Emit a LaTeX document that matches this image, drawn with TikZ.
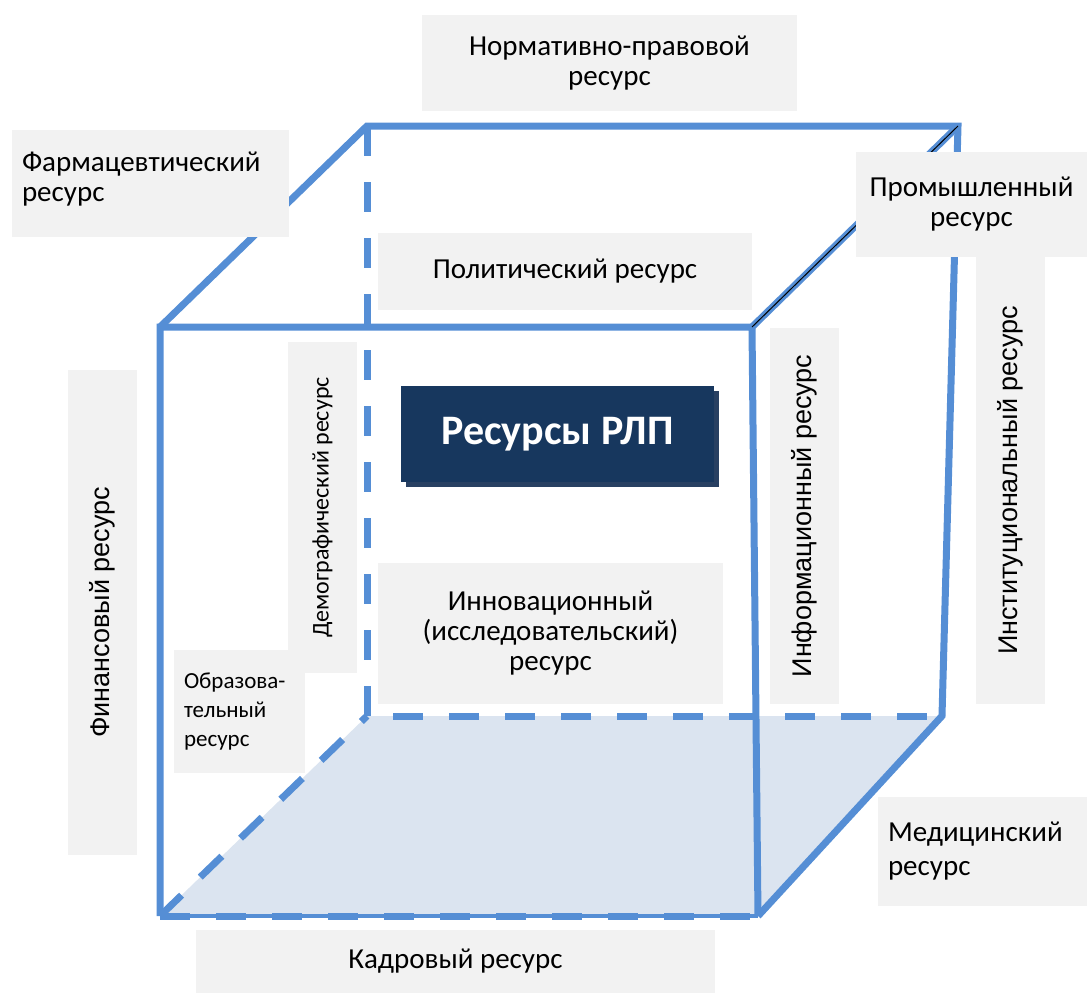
\documentclass[tikz,border=0pt]{standalone}
\usepackage{fontspec}
\setmainfont{Carlito}
\newfontfamily\arialfont{Liberation Sans}
\usetikzlibrary{shadows}
\definecolor{edgeblue}{RGB}{85,142,213}
\definecolor{floorblue}{RGB}{219,228,240}
\definecolor{boxgray}{RGB}{242,242,242}
\definecolor{titlenavy}{RGB}{23,55,94}
\definecolor{shadownavy}{RGB}{40,64,98}

\begin{document}
\begin{tikzpicture}[x=1pt,y=-1pt,
  edge/.style={edgeblue,line width=7pt},
  hidden/.style={edge,dash pattern=on 30pt off 26pt},
  res/.style={fill=boxgray,inner sep=0pt,align=center,font=\fontsize{29}{30}\selectfont},
  lres/.style={res,align=left,inner xsep=10pt},
  vres/.style={res,rotate=90,font=\arialfont\fontsize{27}{30}\selectfont},
  rlp/.style={fill=titlenavy,text=white,inner sep=0pt,font=\bfseries\fontsize{42}{44}\selectfont,
    drop shadow={shadow xshift=5pt,shadow yshift=-5pt,fill=shadownavy,opacity=1}}]

\useasboundingbox (0,0) rectangle (1088,994);

% cube corners
\coordinate (fbl) at (160,916);
\coordinate (fbr) at (758,916);
\coordinate (ftr) at (752,327);
\coordinate (ftl) at (160,327);
\coordinate (bbl) at (367,716);
\coordinate (bbr) at (942,716);
\coordinate (btr) at (958,126);
\coordinate (btl) at (367,126);

\fill[floorblue] (fbl) -- (bbl) -- (bbr) -- (fbr) -- cycle;

\draw[hidden] (btl) -- (bbl) -- (bbr);
\draw[hidden] (fbl) -- (bbl);
\draw[edgeblue,line width=4pt] (fbl) -- (fbr);
\draw[hidden] (fbl) -- (fbr);
\draw[edge] (fbr) -- (ftr) -- (ftl) -- (fbl);
\draw[edge] (ftl) -- (btl) -- (btr) -- (bbr) -- (fbr);
\draw[edge] (ftr) -- (btr);
\draw[black,line width=1pt] (ftr) -- (btr);

% resources
\node[res,minimum width=375,minimum height=96] (normativ) at (609.5,63) {Нормативно-правовой\\ресурс};
\node[lres,text width=257,minimum height=107,text depth=44pt] (farma) at (150.5,183.5) {Фармацевтический\\ресурс};
\node[res,minimum width=374,minimum height=77] (polit) at (565,271.5) {Политический ресурс};
\node[res,minimum width=231,minimum height=105] (prom) at (971.5,204.5) {Промышленный\\ресурс};
\node[vres,minimum width=447,minimum height=69] (instit) at (1010.5,480.5) {Институциональный ресурс};
\node[vres,minimum width=331,minimum height=69,font=\fontsize{24}{28}\selectfont] (demo) at (322.5,507.5) {Демографический ресурс};
\node[vres,minimum width=376,minimum height=69] (inform) at (804.5,516) {Информационный ресурс};
\node[vres,minimum width=485,minimum height=69] (finans) at (102.5,612.5) {Финансовый ресурс};
\node[lres,text width=111,minimum height=123,font=\fontsize{23}{29}\selectfont] (obraz) at (239.5,711.5) {Образова-\\тельный\\ресурс};
\node[res,minimum width=345,minimum height=141] (innov) at (550.5,633.5) {Инновационный\\(исследовательский)\\ресурс};
\node[lres,text width=189,minimum height=109,font=\fontsize{29}{34}\selectfont] (medic) at (982.5,851.5) {Медицинский\\ресурс};
\node[res,minimum width=519,minimum height=63] (kadr) at (455.5,961.5) {Кадровый ресурс};

\node[rlp,minimum width=313,minimum height=96] (title) at (557.5,434) {Ресурсы РЛП};
\end{tikzpicture}
\end{document}
